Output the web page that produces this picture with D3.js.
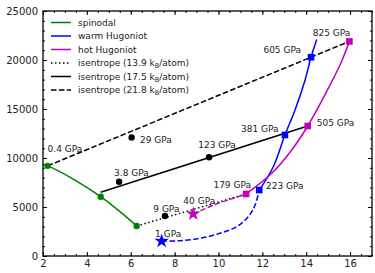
<!doctype html>
<html>
<head>
<script src="https://cdnjs.cloudflare.com/ajax/libs/d3/7.8.5/d3.min.js"></script>
<style>
body { margin: 0; background: #fff; }
svg { font-family: "DejaVu Sans", sans-serif; }
</style>
</head>
<body>
<svg id="chart" width="375" height="273"></svg>
<script>
// density (x) vs temperature (y)
var spinodalLine = [[2.0, 9330], [2.21, 9200], [3.38, 7850], [4.63, 6050], [5.51, 4520], [6.27, 3060]];
var spinodalPts = [[2.21, 9200], [4.63, 6050], [6.27, 3060]];

var warmDashed = [[7.41, 1530], [8.25, 1560], [9.16, 1810], [10.07, 2320], [10.83, 2990], [11.36, 4010], [11.67, 5200], [11.86, 6730]];
var warmSolid = [[11.86, 6730], [12.5, 9110], [13.03, 12350], [13.49, 14900], [13.95, 17960], [14.22, 20280], [14.48, 22100]];
var warmStar = [[7.41, 1530]];
var warmSquares = [[11.86, 6730], [13.03, 12350], [14.22, 20280]];

var hotDashed = [[8.85, 4290], [9.77, 5200], [10.68, 5890], [11.26, 6330]];
var hotSolid = [[11.26, 6330], [12.43, 8440], [13.34, 10820], [14.07, 13265], [15.16, 17760], [15.62, 19900], [15.97, 21900]];
var hotStar = [[8.85, 4290]];
var hotSquares = [[11.26, 6330], [14.07, 13265], [15.97, 21900]];

var isen139 = [[6.27, 3060], [11.26, 6330]];
var isen175 = [[4.63, 6500], [14.07, 13265]];
var isen218 = [[2.21, 9200], [15.97, 21900]];

var blackDots = [[6.04, 12100], [5.47, 7580], [7.56, 4080], [9.57, 10070]];

var labelText = ["0.4 GPa", "29 GPa", "3.8 GPa", "9 GPa", "1 GPa", "40 GPa", "123 GPa",
                 "179 GPa", "223 GPa", "381 GPa", "505 GPa", "605 GPa", "825 GPa"];
var labelX = [2.21, 6.42, 5.24, 7.03, 7.11, 8.40, 9.08, 9.77, 12.17, 11.03, 14.48, 12.05, 14.30];
var labelY = [10630, 11580, 8140, 4510, 1890, 5290, 11040, 6890, 6790, 12670, 13250, 20730, 22430];

var legendNames = ["spinodal", "warm Hugoniot", "hot Hugoniot", "isentrope (13.9 k", "isentrope (17.5 k", "isentrope (21.8 k"];

var xTicks = [2, 4, 6, 8, 10, 12, 14, 16];
var yTicks = [0, 5000, 10000, 15000, 20000, 25000];

var svg = d3.select("#chart");
var pLeft = 43, pRight = 372, pTop = 11, pBottom = 256;

var x = d3.scaleLinear().domain([2, 17]).range([pLeft, pRight]);
var y = d3.scaleLinear().domain([0, 25000]).range([pBottom, pTop]);

var green = "#008000", blue = "#0000ff", magenta = "#bf00bf";

var line = d3.line().x(d => x(d[0])).y(d => y(d[1]));
var curve = d3.line().x(d => x(d[0])).y(d => y(d[1])).curve(d3.curveCatmullRom.alpha(0.5));

var plot = svg.append("g");

function path(data, gen, color, dash) {
  plot.append("path")
    .attr("d", gen(data))
    .attr("fill", "none")
    .attr("stroke", color)
    .attr("stroke-width", 1.5)
    .attr("stroke-dasharray", dash || null);
}

path(isen218, line, "#000", "5.5,2.4");
path(isen175, line, "#000");
path(isen139, line, "#000", "1.5,2.5");
path(spinodalLine, curve, green);
path(warmDashed, curve, blue, "5.5,2.4");
path(warmSolid, curve, blue);
path(hotDashed, curve, magenta, "5.5,2.4");
path(hotSolid, curve, magenta);

function symbols(data, type, size, color) {
  plot.selectAll(null).data(data).enter().append("path")
    .attr("d", d3.symbol().type(type).size(size))
    .attr("transform", d => "translate(" + x(d[0]) + "," + y(d[1]) + ")")
    .attr("fill", color);
}

symbols(spinodalPts, d3.symbolCircle, 32, green);
symbols(blackDots, d3.symbolCircle, 32, "#000");
symbols(warmSquares, d3.symbolSquare, 44, blue);
symbols(hotSquares, d3.symbolSquare, 44, magenta);
symbols(warmStar, d3.symbolStar, 65, blue);
symbols(hotStar, d3.symbolStar, 65, magenta);

svg.append("g").selectAll("text").data(labelText).enter().append("text")
  .attr("x", (d, i) => x(labelX[i]))
  .attr("y", (d, i) => y(labelY[i]))
  .attr("font-size", 9)
  .attr("fill", "#222")
  .text(d => d);

// axes with inward ticks on all sides
function styleAxis(g) {
  g.select(".domain").remove();
  g.selectAll("line").attr("stroke", "#000").attr("stroke-width", 1);
  g.selectAll("text").attr("font-size", 10).attr("fill", "#222").attr("font-family", "DejaVu Sans, sans-serif");
}

var xMinor = d3.range(2, 17.01, 0.5);
var yMinor = d3.range(0, 25001, 1000);

svg.append("g").attr("transform", "translate(0," + pBottom + ")")
  .call(d3.axisBottom(x).tickValues(xMinor).tickSize(-2).tickFormat(""))
  .call(styleAxis);
svg.append("g").attr("transform", "translate(0," + pBottom + ")")
  .call(d3.axisBottom(x).tickValues(xTicks).tickSize(-4).tickPadding(4).tickFormat(d3.format("d")))
  .call(styleAxis);
svg.append("g").attr("transform", "translate(0," + pTop + ")")
  .call(d3.axisTop(x).tickValues(xMinor).tickSize(-2).tickFormat(""))
  .call(styleAxis);
svg.append("g").attr("transform", "translate(0," + pTop + ")")
  .call(d3.axisTop(x).tickValues(xTicks).tickSize(-4).tickFormat(""))
  .call(styleAxis);
svg.append("g").attr("transform", "translate(" + pLeft + ",0)")
  .call(d3.axisLeft(y).tickValues(yMinor).tickSize(-2).tickFormat(""))
  .call(styleAxis);
svg.append("g").attr("transform", "translate(" + pLeft + ",0)")
  .call(d3.axisLeft(y).tickValues(yTicks).tickSize(-4).tickPadding(5).tickFormat(d3.format("d")))
  .call(styleAxis);
svg.append("g").attr("transform", "translate(" + pRight + ",0)")
  .call(d3.axisRight(y).tickValues(yMinor).tickSize(-2).tickFormat(""))
  .call(styleAxis);
svg.append("g").attr("transform", "translate(" + pRight + ",0)")
  .call(d3.axisRight(y).tickValues(yTicks).tickSize(-4).tickFormat(""))
  .call(styleAxis);

svg.append("rect")
  .attr("x", pLeft).attr("y", pTop)
  .attr("width", pRight - pLeft).attr("height", pBottom - pTop)
  .attr("fill", "none").attr("stroke", "#000").attr("stroke-width", 1.3);

// legend
var legendColor = [green, blue, magenta, "#000", "#000", "#000"];
var legendDash = [null, null, null, "1.5,2.5", null, "5.5,2.4"];
var leg = svg.append("g").attr("transform", "translate(51,22.5)");
legendNames.forEach(function(name, i) {
  var row = leg.append("g").attr("transform", "translate(0," + (i * 13.5) + ")");
  row.append("line").attr("x1", 0).attr("x2", 20).attr("y1", 0).attr("y2", 0)
    .attr("stroke", legendColor[i]).attr("stroke-width", 1.5)
    .attr("stroke-dasharray", legendDash[i]);
  var t = row.append("text").attr("x", 27).attr("y", 3.3).attr("font-size", 9).attr("fill", "#222");
  t.append("tspan").text(name);
  if (i >= 3) {
    t.append("tspan").attr("font-size", 6.5).attr("dy", 1.8).text("B");
    t.append("tspan").attr("dy", -1.8).text("/atom)");
  }
});
</script>
</body>
</html>
